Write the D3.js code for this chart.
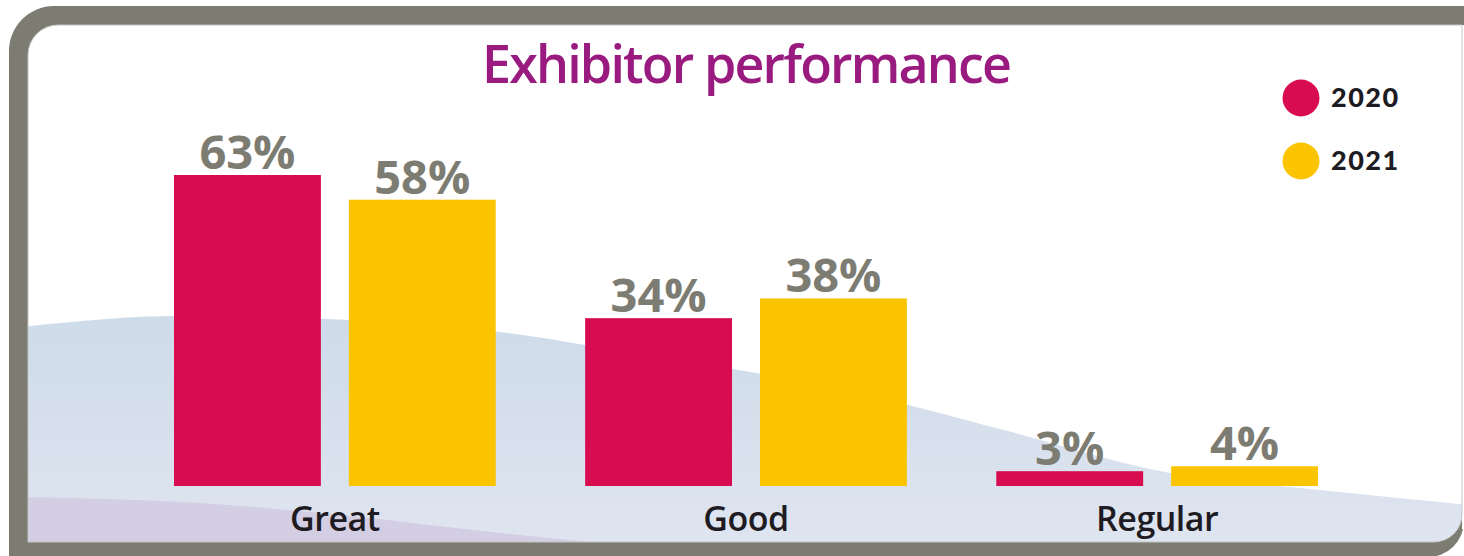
<!DOCTYPE html>
<html>
<head>
<meta charset="utf-8">
<script src="https://cdn.jsdelivr.net/npm/d3@7"></script>
<style>
  html, body { margin: 0; padding: 0; background: #ffffff; }
  svg { display: block; }
</style>
</head>
<body>
<svg id="chart" width="1464" height="556"></svg>
<script>
// Survey results: share of exhibitors rating their performance
const categories = ["Great", "Good", "Regular"];
const seriesNames = ["2020", "2021"];
const values2020 = [63, 34, 3];
const values2021 = [58, 38, 4];
const seriesColors = ["#d80c51", "#fac400"];
const titleText = "Exhibitor performance";

const W = 1464, H = 556;
const svg = d3.select("#chart");
const defs = svg.append("defs");

// Frame: gray rounded border with a white panel inside
const frameGray = "#7d7c72";
svg.append("path")
  .attr("d", "M9,51 A45,45 0 0 1 54,6 H1464 V521 A36,36 0 0 1 1428,557 H9 Z")
  .attr("fill", frameGray);
svg.append("rect")
  .attr("x", 1462).attr("y", 25).attr("width", 2).attr("height", 504)
  .attr("fill", "#ffffff");

const panelPath = "M28,55 A30,30 0 0 1 58,25 H1462 V514 A28,28 0 0 1 1434,542 H28 Z";
defs.append("clipPath").attr("id", "panelClip")
  .append("path").attr("d", panelPath);
svg.append("path").attr("d", panelPath).attr("fill", "#ffffff");

// Decorative background waves
const grad = defs.append("linearGradient")
  .attr("id", "waveBlue").attr("gradientUnits", "userSpaceOnUse")
  .attr("x1", 0).attr("y1", 315).attr("x2", 0).attr("y2", 545);
grad.append("stop").attr("offset", 0).attr("stop-color", "#cedbe9");
grad.append("stop").attr("offset", 1).attr("stop-color", "#dfe5f0");

const waves = svg.append("g").attr("clip-path", "url(#panelClip)");
const waveLine = d3.line().curve(d3.curveMonotoneX);

const blueEdge = [[20, 327], [180, 316], [350, 320], [500, 332], [650, 356],
                  [800, 381], [900, 403], [1000, 429], [1170, 473], [1320, 490], [1470, 505]];
waves.append("path")
  .attr("d", waveLine(blueEdge) + " L1470,560 L20,560 Z")
  .attr("fill", "url(#waveBlue)");

const lavEdge = [[20, 497], [200, 503], [350, 516], [500, 533], [600, 543]];
waves.append("path")
  .attr("d", waveLine(lavEdge) + " L600,560 L20,560 Z")
  .attr("fill", "#d3cee3");

svg.append("path").attr("d", panelPath)
  .attr("fill", "none").attr("stroke", "#c4c4c4").attr("stroke-width", 1);

// Scales
const x0 = d3.scaleBand().domain(categories).range([174, 1318])
  .paddingInner(0.2175).paddingOuter(0);
const x1 = d3.scaleBand().domain(seriesNames).range([0, x0.bandwidth()])
  .paddingInner(0.16).paddingOuter(0);
const y = d3.scaleLinear()
  .domain([0, d3.max(values2020.concat(values2021))])
  .range([486, 175]);

const rows = categories.map((c, i) => ({
  category: c,
  items: [
    { series: seriesNames[0], value: values2020[i], color: seriesColors[0] },
    { series: seriesNames[1], value: values2021[i], color: seriesColors[1] }
  ]
}));

const groups = svg.append("g").selectAll("g")
  .data(rows).join("g")
  .attr("transform", d => `translate(${x0(d.category)},0)`);

groups.selectAll("rect")
  .data(d => d.items).join("rect")
  .attr("x", d => x1(d.series))
  .attr("y", d => y(d.value))
  .attr("width", x1.bandwidth())
  .attr("height", d => y(0) - y(d.value))
  .attr("fill", d => d.color);

groups.selectAll("text.value")
  .data(d => d.items).join("text")
  .attr("class", "value")
  .attr("x", d => x1(d.series) + x1.bandwidth() / 2)
  .attr("y", d => y(d.value) - 6)
  .attr("text-anchor", "middle")
  .attr("font-family", "'Open Sans', sans-serif")
  .attr("font-weight", 700)
  .attr("font-size", 47)
  .attr("fill", "#7d7c72")
  .text(d => d.value + "%");

// Category axis labels
const xAxis = d3.axisBottom(x0).tickSize(0).tickPadding(0);
const axisG = svg.append("g").attr("transform", "translate(0,531)").call(xAxis);
axisG.select(".domain").remove();
axisG.selectAll("text")
  .attr("dy", 0).attr("y", 0)
  .attr("font-family", "'Open Sans', sans-serif")
  .attr("font-weight", 600)
  .attr("font-size", 34)
  .attr("letter-spacing", -0.5)
  .attr("fill", "#1e1b22");

// Title
svg.append("text")
  .attr("x", 747).attr("y", 83)
  .attr("text-anchor", "middle")
  .attr("font-family", "'Open Sans', sans-serif")
  .attr("font-weight", 600)
  .attr("font-size", 52)
  .attr("textLength", 530)
  .attr("lengthAdjust", "spacing")
  .attr("fill", "#991b7f")
  .text(titleText);

// Legend
const legend = svg.append("g").selectAll("g")
  .data(seriesNames).join("g")
  .attr("transform", (d, i) => `translate(1301,${98 + i * 63})`);
legend.append("circle").attr("r", 18.5)
  .attr("fill", (d, i) => seriesColors[i]);
legend.append("text")
  .attr("x", 30).attr("y", 9)
  .attr("font-family", "Lato, sans-serif")
  .attr("font-weight", 900)
  .attr("font-size", 27)
  .attr("letter-spacing", 1.5)
  .attr("fill", "#1e1b22")
  .text(d => d);
</script>
</body>
</html>
